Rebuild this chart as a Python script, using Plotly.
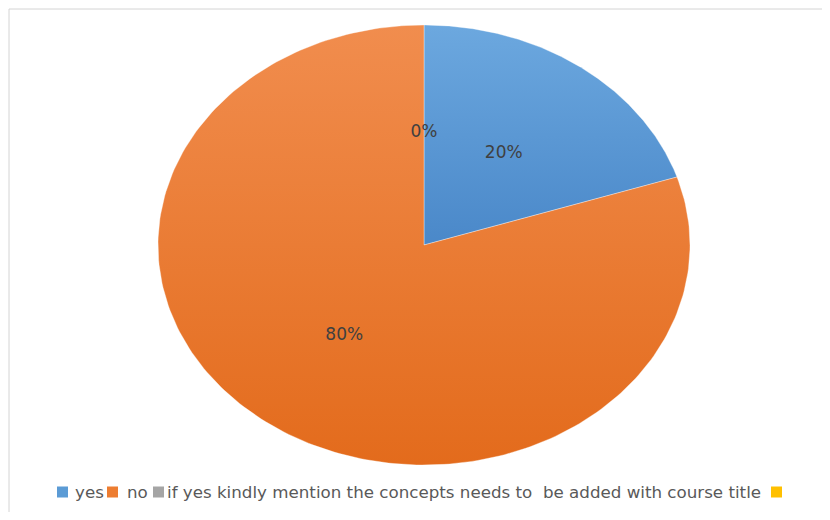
import numpy as np
import plotly.graph_objects as go

# ---- data ----
categories = ["yes", "no",
              "if yes kindly mention the concepts needs to  be added with course title",
              ""]
values = [20, 80, 0, None]
colors = ["#5B9BD5", "#ED7D31", "#A5A5A5", "#FFC000"]
grad_dark = ["#4A88C9", "#E36B1C", "#8F8F8F", "#E5AC00"]
grad_light = ["#6CA8DF", "#F18D4E", "#B8B8B8", "#FFCB33"]

# page body has an 8px margin, so the figure is 16px smaller than the window
W, H = 814, 504
OFF = 8
cx, cy, rx, ry = 424 - OFF, 245 - OFF, 266, 220
FONT = "DejaVu Sans"

fig = go.Figure()

total = sum(v for v in values if v)
start = 90.0
label_x, label_y, label_t = [], [], []
for cat, v, dk, lt in zip(categories, values, grad_dark, grad_light):
    if v is None:
        continue
    sweep = v / total * 360.0
    if sweep > 0:
        th = np.radians(np.linspace(start, start - sweep, 240))
        xs = np.concatenate([[0], np.cos(th), [0]])
        ys = np.concatenate([[0], np.sin(th), [0]])
        fig.add_trace(go.Scatter(
            x=xs, y=ys, mode="lines", fill="toself", name=cat,
            line=dict(color="rgba(255,255,255,0.35)", width=1),
            fillgradient=dict(type="vertical", colorscale=[[0, dk], [1, lt]]),
            showlegend=False, hoverinfo="skip"))
    mid = np.radians(start - sweep / 2)
    label_x.append(0.51 * np.cos(mid))
    label_y.append(0.51 * np.sin(mid))
    label_t.append(f"{v / total * 100:.0f}%")
    start -= sweep

fig.add_trace(go.Scatter(x=label_x, y=label_y, mode="text", text=label_t,
                         textfont=dict(family=FONT, size=17, color="#404040"),
                         showlegend=False, hoverinfo="skip"))

fig.update_xaxes(visible=False, range=[-cx / rx, (W - cx) / rx], fixedrange=True)
fig.update_yaxes(visible=False, range=[-(H - cy) / ry, cy / ry], fixedrange=True)

# outer frame (top and left edges visible)
fig.add_shape(type="rect", xref="paper", yref="paper",
              x0=1 / W, x1=1.02, y0=-0.02, y1=1 - 1 / H,
              line=dict(color="#D4D4D4", width=1), fillcolor="rgba(0,0,0,0)",
              layer="below")

# legend row (custom, to keep the tight spacing of the original)
leg_y = 492 - OFF
sq = 11
square_px = [57, 107, 153, 771]
text_px = [75, 127, 167, None]
for cat, c, sx, tx in zip(categories, colors, square_px, text_px):
    x0 = sx - OFF
    fig.add_shape(type="rect", xref="paper", yref="paper",
                  x0=x0 / W, x1=(x0 + sq) / W,
                  y0=(H - (leg_y + sq / 2)) / H, y1=(H - (leg_y - sq / 2)) / H,
                  line=dict(width=0), fillcolor=c)
    if tx is not None and cat:
        fig.add_annotation(xref="paper", yref="paper",
                           x=(tx - OFF - 2) / W, y=(H - leg_y) / H,
                           xanchor="left", yanchor="middle", showarrow=False,
                           text=cat.replace("  ", "&nbsp; "),
                           font=dict(family=FONT, size=16.7, color="#595959"))

fig.update_layout(
    width=W, height=H,
    margin=dict(l=0, r=0, t=0, b=0),
    paper_bgcolor="white", plot_bgcolor="white",
    showlegend=False,
)

fig.write_html("out.html")
